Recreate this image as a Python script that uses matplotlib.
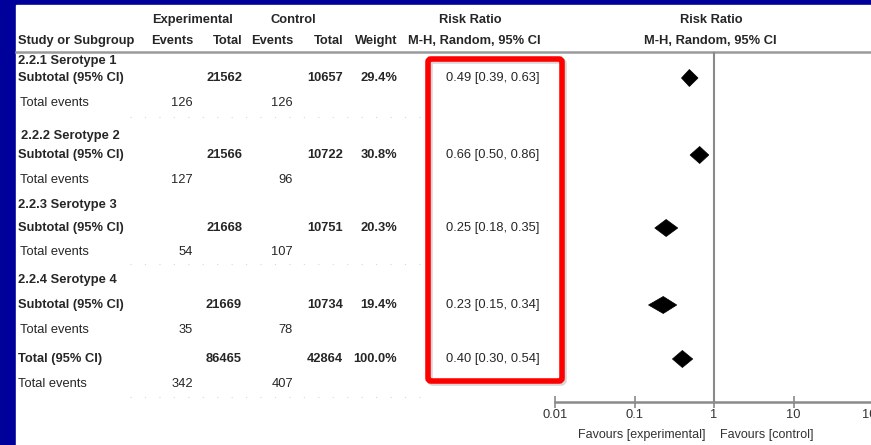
import matplotlib
matplotlib.use('Agg')
import matplotlib.pyplot as plt
from matplotlib.patches import Polygon, Rectangle, FancyBboxPatch

# data
groups = ['2.2.1 Serotype 1', '2.2.2 Serotype 2', '2.2.3 Serotype 3', '2.2.4 Serotype 4']
exp_events = [126, 127, 54, 35]
exp_total = [21562, 21566, 21668, 21669]
ctl_events = [126, 96, 107, 78]
ctl_total = [10657, 10722, 10751, 10734]
weights = [29.4, 30.8, 20.3, 19.4]
rr = [0.49, 0.66, 0.25, 0.23]
rr_lo = [0.39, 0.50, 0.18, 0.15]
rr_hi = [0.63, 0.86, 0.35, 0.34]

tot_exp_events = 342
tot_exp_total = 86465
tot_ctl_events = 407
tot_ctl_total = 42864
tot_weight = 100.0
tot_rr, tot_lo, tot_hi = 0.40, 0.30, 0.54

ticks = [0.01, 0.1, 1, 10, 100]
tick_labels = ['0.01', '0.1', '1', '10', '100']

W, H = 871, 445
FONT = ['Liberation Sans Narrow', 'Liberation Sans', 'DejaVu Sans']
TXT = '#262626'
FS = 9.3

fig = plt.figure(figsize=(W / 100, H / 100), dpi=100)
fig.patch.set_facecolor('#00009a')

# table layer in pixel coordinates
ax = fig.add_axes([0, 0, 1, 1])
ax.set_xlim(0, W)
ax.set_ylim(H, 0)
ax.axis('off')
ax.add_patch(Rectangle((16, 5), W - 16, H - 5, color='white', zorder=0))


def txt(x, y, s, ha='left', bold=False, size=FS, color=TXT):
    ax.text(x, y, s, ha=ha, va='center', fontsize=size, family=FONT,
            fontweight='bold' if bold else 'normal', color=color, zorder=3)


# header
txt(192, 20, 'Experimental', ha='center', bold=True)
txt(293, 20, 'Control', ha='center', bold=True)
txt(470, 20, 'Risk Ratio', ha='center', bold=True)
txt(711, 20, 'Risk Ratio', ha='center', bold=True)
txt(18, 41, 'Study or Subgroup', bold=True)
txt(193, 41, 'Events', ha='right', bold=True)
txt(242, 41, 'Total', ha='right', bold=True)
txt(293, 41, 'Events', ha='right', bold=True)
txt(343, 41, 'Total', ha='right', bold=True)
txt(397, 41, 'Weight', ha='right', bold=True)
txt(474, 41, 'M-H, Random, 95% CI', ha='center', bold=True)
txt(710, 41, 'M-H, Random, 95% CI', ha='center', bold=True)
ax.plot([16, W], [52, 52], color='#9a9a9a', lw=1.8, zorder=2)

# row layout (pixel y of title / subtotal / events rows)
title_y = [61, 136, 205, 280]
sub_y = [78, 155, 228, 305]
ev_y = [103, 180, 252, 330]
total_y, total_ev_y = 359, 384

for i, g in enumerate(groups):
    txt(18 if i != 1 else 21, title_y[i], g, bold=True)
    txt(18, sub_y[i], 'Subtotal (95% CI)', bold=True)
    txt(242, sub_y[i], str(exp_total[i]), ha='right', bold=True)
    txt(343, sub_y[i], str(ctl_total[i]), ha='right', bold=True)
    txt(397, sub_y[i], '%.1f%%' % weights[i], ha='right', bold=True)
    txt(493, sub_y[i], '%.2f [%.2f, %.2f]' % (rr[i], rr_lo[i], rr_hi[i]), ha='center')
    txt(20, ev_y[i], 'Total events')
    txt(193, ev_y[i], str(exp_events[i]), ha='right')
    txt(293, ev_y[i], str(ctl_events[i]), ha='right')

txt(18, total_y, 'Total (95% CI)', bold=True)
txt(242, total_y, str(tot_exp_total), ha='right', bold=True)
txt(343, total_y, str(tot_ctl_total), ha='right', bold=True)
txt(397, total_y, '%.1f%%' % tot_weight, ha='right', bold=True)
txt(493, total_y, '%.2f [%.2f, %.2f]' % (tot_rr, tot_lo, tot_hi), ha='center')
txt(18, total_ev_y, 'Total events')
txt(193, total_ev_y, str(tot_exp_events), ha='right')
txt(293, total_ev_y, str(tot_ctl_events), ha='right')

# faint separators between blocks
for yy in [117, 264, 397]:
    ax.plot([130, 420], [yy, yy], color='#d8d8d8', lw=0.8, ls=(0, (1, 12)), zorder=1)

# red highlight box with a soft shadow
ax.add_patch(FancyBboxPatch((430, 61), 134, 322, boxstyle='round,pad=0,rounding_size=3',
                            fc='none', ec='#b0b0b0', lw=4, alpha=0.5, zorder=3))
ax.add_patch(FancyBboxPatch((428, 59), 134, 322, boxstyle='round,pad=0,rounding_size=3',
                            fc='none', ec='#ff0000', lw=4, zorder=4))

# forest plot on a log scale, sharing the pixel y coordinates
x0, decade = 555, 79.5
fx = fig.add_axes([x0 / W, 0, 4 * decade / W, 1])
fx.set_xscale('log')
fx.set_xlim(0.01, 100)
fx.set_ylim(H, 0)
fx.patch.set_alpha(0)
for s in ['top', 'left', 'right']:
    fx.spines[s].set_visible(False)
fx.spines['bottom'].set_position(('data', 402))
fx.spines['bottom'].set_color('#8a8a8a')
fx.spines['bottom'].set_linewidth(1.8)
fx.set_yticks([])
fx.set_xticks(ticks)
fx.set_xticklabels(tick_labels, family=FONT, fontsize=FS, color='#333333')
fx.minorticks_off()
fx.tick_params(axis='x', direction='inout', length=8, width=1.2, color='#8a8a8a', pad=1)

fx.plot([1, 1], [53, 402], color='#8a8a8a', lw=1.5, zorder=1)

hh = 8.5
for i in range(len(groups)):
    y = sub_y[i]
    fx.add_patch(Polygon([(rr_lo[i], y), (rr[i], y - hh), (rr_hi[i], y), (rr[i], y + hh)],
                         closed=True, fc='black', ec='black', lw=0.5, zorder=3))
fx.add_patch(Polygon([(tot_lo, total_y), (tot_rr, total_y - hh), (tot_hi, total_y),
                      (tot_rr, total_y + hh)], closed=True, fc='black', ec='black', lw=0.5, zorder=3))

fx.text(0.125, 435, 'Favours [experimental]', ha='center', va='center', family=FONT,
        fontsize=9.0, color='#333333')
fx.text(4.6, 435, 'Favours [control]', ha='center', va='center', family=FONT,
        fontsize=9.0, color='#333333')

fig.savefig('out.png', dpi=100, facecolor=fig.get_facecolor())
